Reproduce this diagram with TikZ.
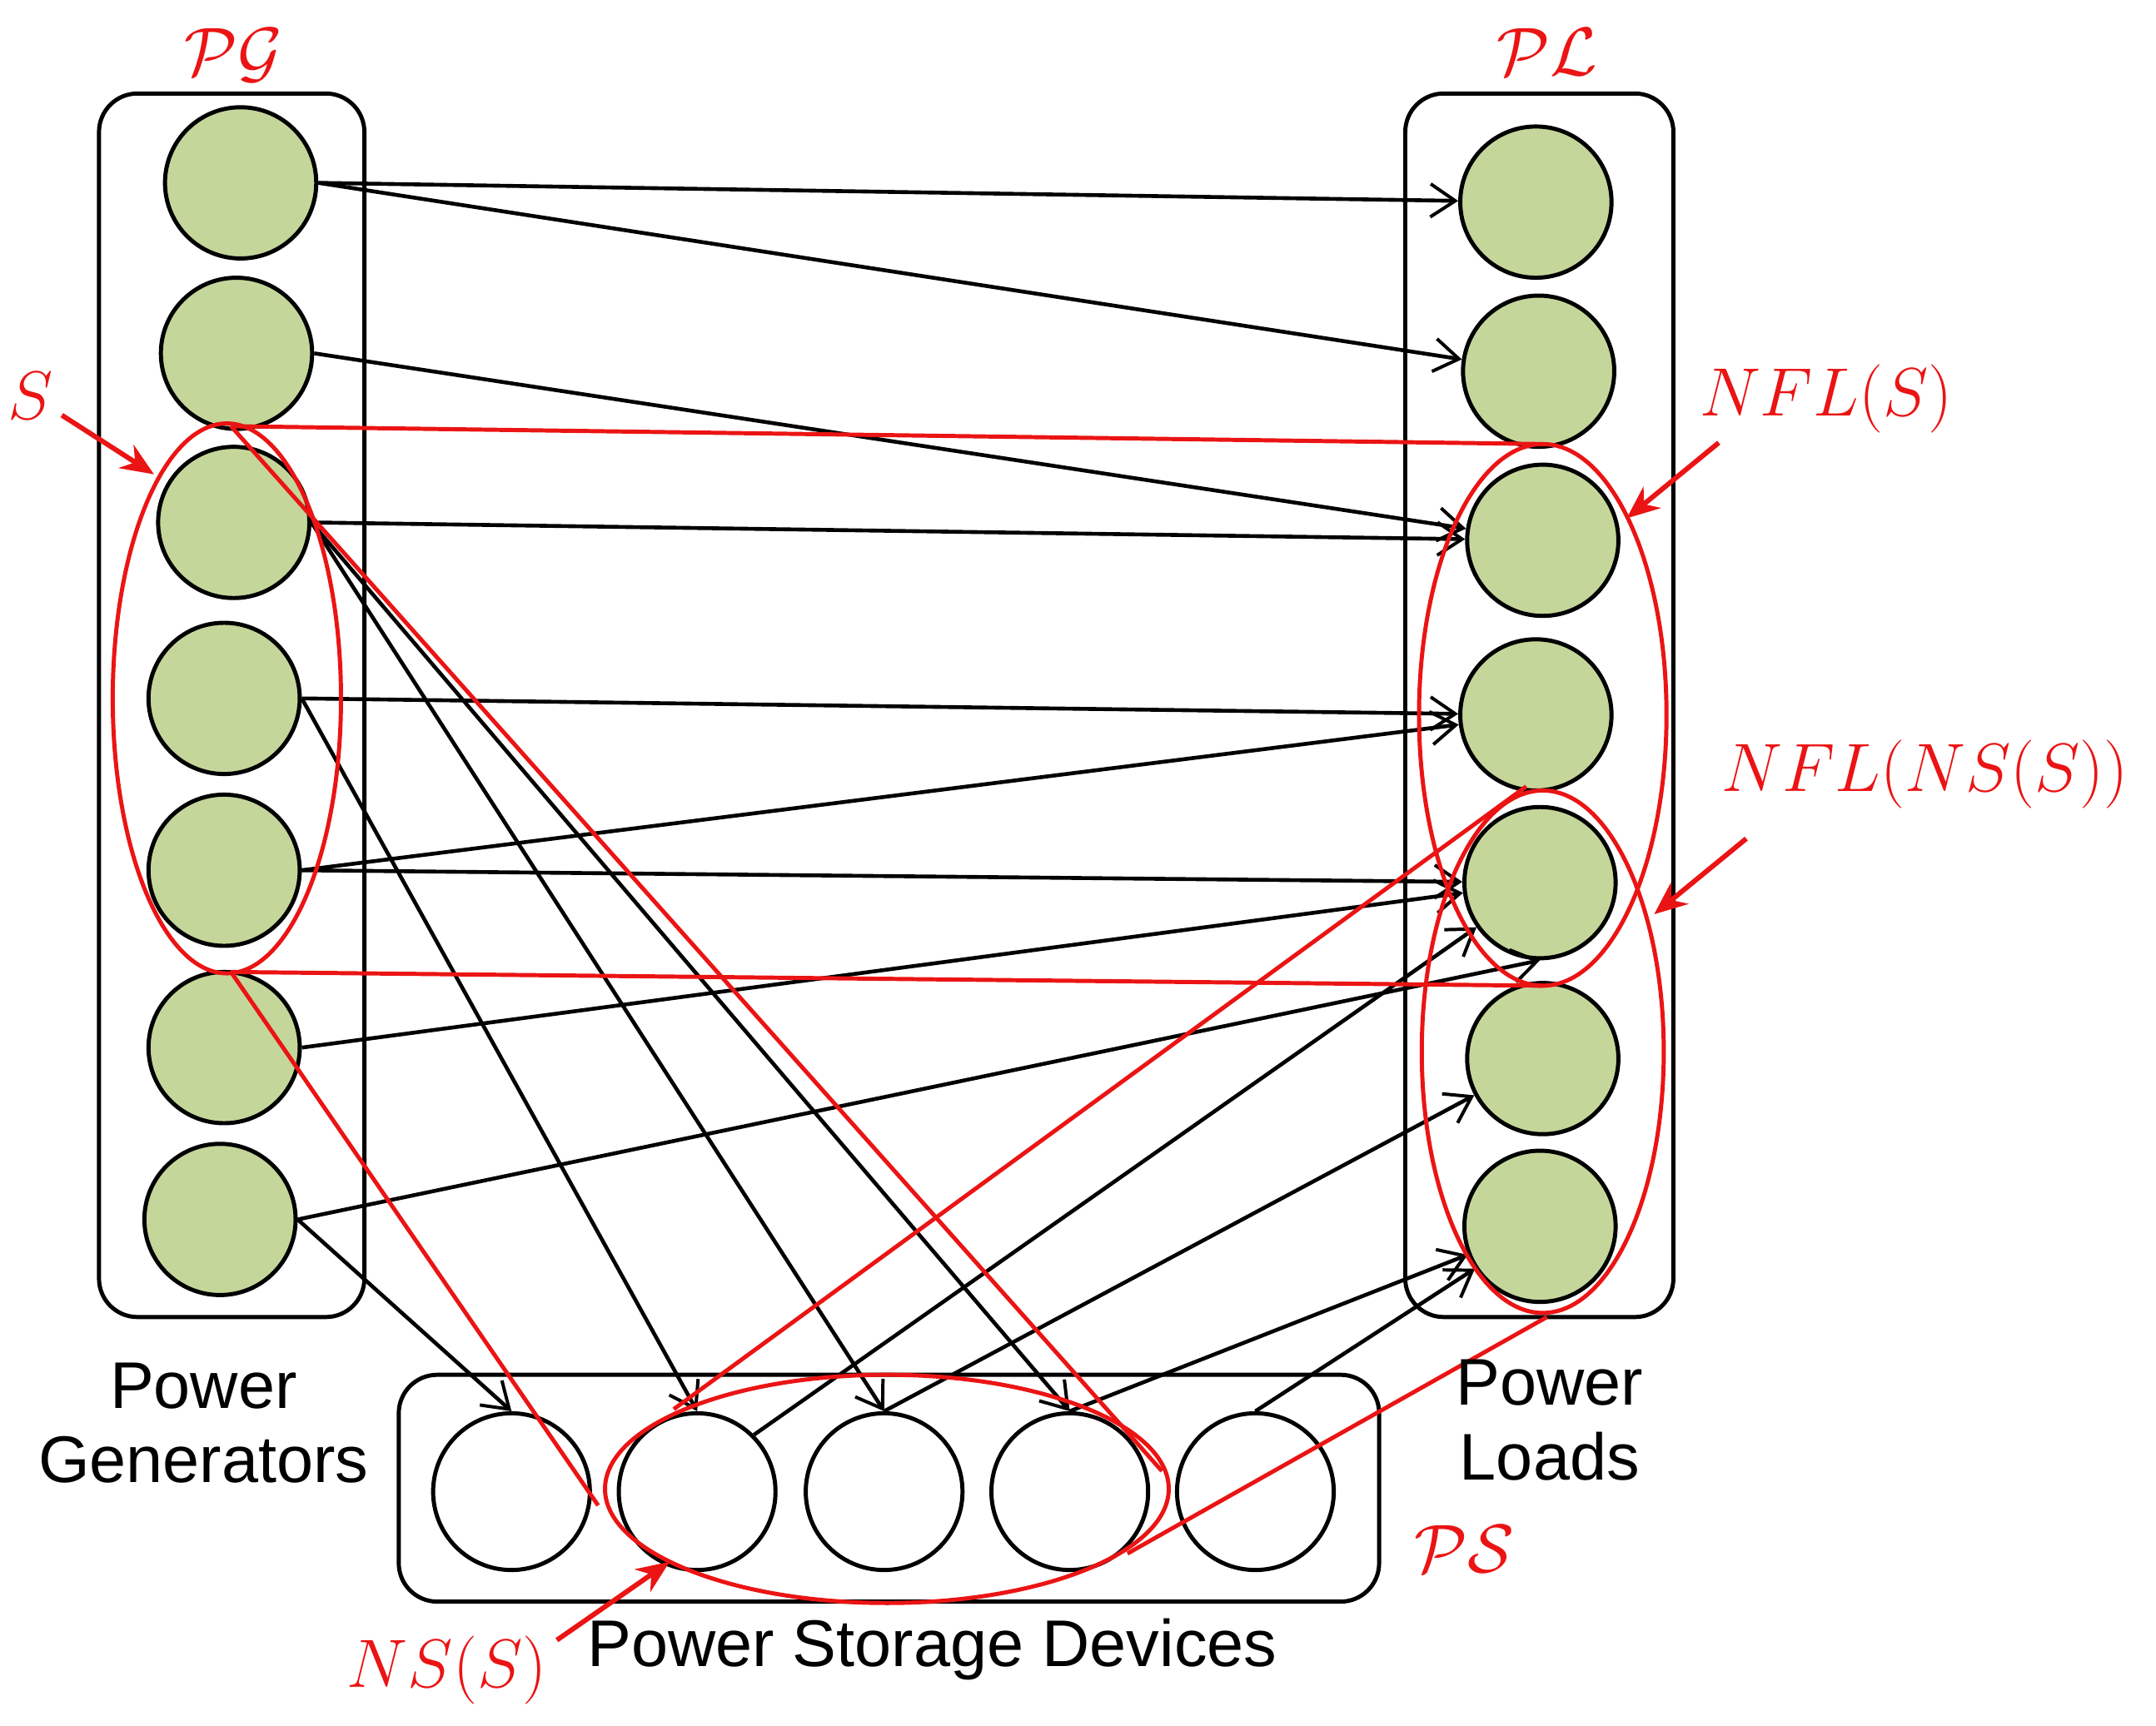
\documentclass[tikz,border=0pt]{standalone}
\usepackage{fontspec}
\setmainfont{Liberation Sans}
\usetikzlibrary{arrows.meta}
\definecolor{gfill}{RGB}{197,214,155}
\definecolor{rd}{RGB}{235,20,20}
\begin{document}
\begin{tikzpicture}[x=0.5pt,y=-0.5pt,
  gn/.style={circle,draw,line width=1.5pt,fill=gfill,minimum width=55pt,minimum height=52pt,inner sep=0},
  sn/.style={circle,draw,line width=1.5pt,fill=white,minimum size=57pt,inner sep=0},
  box/.style={draw,line width=1.5pt,rounded corners=14pt},
  ar/.style={line width=1.4pt,-{Straight Barb[length=9pt,width=12pt,line width=1.2pt]}},
  red/.style={draw=rd,line width=1.5pt},
  rar/.style={draw=rd,line width=1.8pt,-{Stealth[length=12pt,width=10pt]}},
  lab/.style={font=\fontsize{24}{27}\selectfont,align=center},
  ml/.style={text=rd,font=\fontsize{28}{30}\selectfont}]
\useasboundingbox (0,0) rectangle (1568,1255);
\draw[box] (72,68) rectangle (265,958);
\draw[box] (1022,68) rectangle (1217,958);
\draw[box] (290,1000) rectangle (1003,1165);
\foreach \n/\x/\y in {1/175/133,2/172/257,3/170/380,4/163/508,5/163/633,6/163/762,7/160/887}
  \node[gn] (g\n) at (\x,\y) {};
\foreach \n/\x/\y in {1/1117/147,2/1119/270,3/1122/393,4/1117/520,5/1120/642,6/1122/770,7/1120/892}
  \node[gn] (l\n) at (\x,\y) {};
\foreach \n/\x in {1/372,2/507,3/643,4/778,5/913}
  \node[sn] (s\n) at (\x,1085) {};
\draw[ar] (g1.east) -- (l1);
\draw[ar] (g1.east) -- (l2);
\draw[ar] (g2.east) -- (l3);
\draw[ar] (g3.east) -- (l3);
\draw[ar] (g3.east) -- (s3.north);
\draw[ar] (g3.east) -- (s4.north);
\draw[ar] (g4.east) -- (l4);
\draw[ar] (g4.east) -- (s2.north);
\draw[ar] (g5.east) -- (l4);
\draw[ar] (g5.east) -- (l5);
\draw[ar] (g6.east) -- (l5);
\draw[ar] (g7.east) -- (s1.north);
\draw[ar] (g7.east) -- (l5.south);
\draw[ar] (s2.north east) -- (l5);
\draw[ar] (s3.north) -- (l6);
\draw[ar] (s4.north) -- (l7);
\draw[ar] (s5.north) -- (l7);
% red shapes
\draw[red] (165,508) ellipse [x radius=83,y radius=200];
\draw[red] (1122,520) ellipse [x radius=90,y radius=197];
\draw[red] (1122,765) ellipse [x radius=88,y radius=190];
\draw[red] (645,1083) ellipse [x radius=205,y radius=83];
\coordinate (a1) at (168,310); \coordinate (a2) at (1122,323);
\coordinate (b1) at (168,707); \coordinate (b2) at (1122,717);
\coordinate (c1) at (845,1070); \coordinate (c2) at (435,1095);
\coordinate (d1) at (490,1025); \coordinate (d2) at (1110,572);
\coordinate (e1) at (820,1130); \coordinate (e2) at (1125,958);
\draw[red] (a1) -- (a2);
\draw[red] (b1) -- (b2);
\draw[red] (a1) -- (c1);
\draw[red] (b1) -- (c2);
\draw[red] (d1) -- (d2);
\draw[red] (e1) -- (e2);
% labels
\node[ml] (tS) at (22,288) {$S$};
\coordinate (tSa) at (112,345);
\draw[rar] (45,302) -- (tSa);
\node[ml] (tN) at (1328,290) {$NFL(S)$};
\coordinate (tNa) at (1183,377);
\draw[rar] (1250,322) -- (tNa);
\node[ml] (tNN) at (1400,563) {$NFL(NS(S))$};
\coordinate (tNNa) at (1203,665);
\draw[rar] (1270,610) -- (tNNa);
\node[ml] (tNS) at (325,1215) {$NS(S)$};
\coordinate (tNSa) at (487,1136);
\draw[rar] (405,1193) -- (tNSa);
\node[ml,font=\fontsize{32}{34}\selectfont] at (170,40) {$\mathcal{PG}$};
\node[ml,font=\fontsize{32}{34}\selectfont] at (1125,38) {$\mathcal{PL}$};
\node[ml,font=\fontsize{32}{34}\selectfont] at (1065,1127) {$\mathcal{PS}$};
\node[lab] at (148,1035) {Power\\Generators};
\node[lab] at (1127,1033) {Power\\Loads};
\node[lab] at (678,1200) {Power Storage Devices};
\end{tikzpicture}
\end{document}
